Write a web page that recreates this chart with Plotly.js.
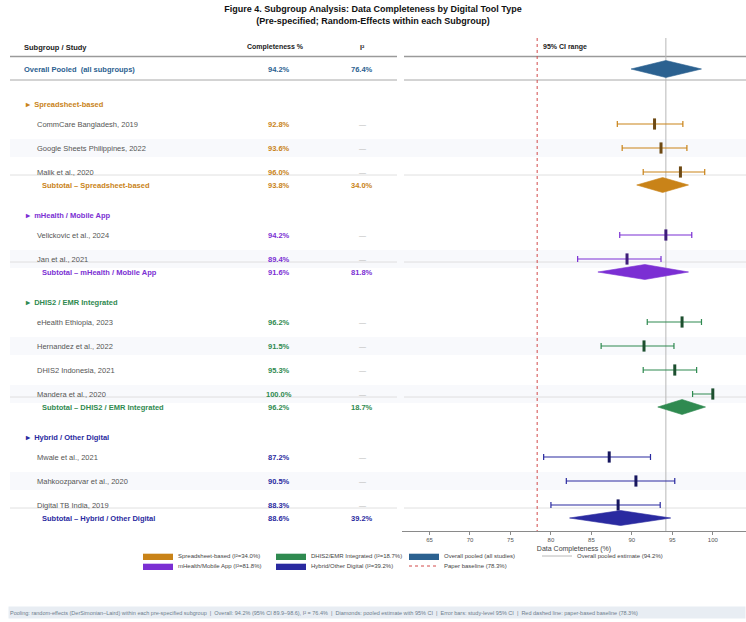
<!DOCTYPE html>
<html>
<head>
<meta charset="utf-8">
<script src="https://cdn.plot.ly/plotly-3.0.1.min.js"></script>
<style>
  html, body { margin: 0; padding: 0; background: #fff; }
  #chart { width: 746px; height: 622px; }
</style>
</head>
<body>
<div id="chart"></div>
<script>
// ---------- data ----------
const groupNames = ['Spreadsheet-based', 'mHealth / Mobile App', 'DHIS2 / EMR Integrated', 'Hybrid / Other Digital'];
const groupLegend = ['Spreadsheet-based (I²=34.0%)', 'mHealth/Mobile App (I²=81.8%)', 'DHIS2/EMR Integrated (I²=18.7%)', 'Hybrid/Other Digital (I²=39.2%)'];

const spreadsheetStudies = ['CommCare Bangladesh, 2019', 'Google Sheets Philippines, 2022', 'Malik et al., 2020'];
const spreadsheetEst = [92.8, 93.6, 96.0];
const spreadsheetLo  = [88.2, 88.8, 91.4];
const spreadsheetHi  = [96.3, 96.8, 99.0];

const mhealthStudies = ['Velickovic et al., 2024', 'Jan et al., 2021'];
const mhealthEst = [94.2, 89.4];
const mhealthLo  = [88.5, 83.3];
const mhealthHi  = [97.4, 93.6];

const dhisStudies = ['eHealth Ethiopia, 2023', 'Hernandez et al., 2022', 'DHIS2 Indonesia, 2021', 'Mandera et al., 2020'];
const dhisEst = [96.2, 91.5, 95.3, 100.0];
const dhisLo  = [91.9, 86.2, 91.4, 97.5];
const dhisHi  = [98.6, 95.2, 98.0, 100.0];

const hybridStudies = ['Mwale et al., 2021', 'Mahkoozparvar et al., 2020', 'Digital TB India, 2019'];
const hybridEst = [87.2, 90.5, 88.3];
const hybridLo  = [79.1, 81.9, 80.0];
const hybridHi  = [92.3, 95.3, 93.5];

// pooled (random-effects) estimate for each subgroup
const subtotalEst = [93.8, 91.6, 96.2, 88.6];
const subtotalLo  = [90.6, 85.8, 93.2, 82.3];
const subtotalHi  = [97.0, 97.0, 99.1, 94.8];
const subtotalI2  = [34.0, 81.8, 18.7, 39.2];

const overallEst = 94.2, overallLo = 89.9, overallHi = 98.6, overallI2 = 76.4;
const paperBaseline = 78.3;
const xTicks = [65, 70, 75, 80, 85, 90, 95, 100];

// ---------- styling ----------
const groupColors = ['#c98318', '#7b2fd3', '#2f8a50', '#2a2aa0'];
const groupDark   = ['#6e4a14', '#3e1c7a', '#1d4f2f', '#15155e'];
const overallColor = '#2b6190';
const FONT = 'Liberation Sans, Arial, sans-serif';
const FIG_W = 746;
const PLOT_TOP = 38, PLOT_BOTTOM = 531;
const HEADER_Y = 47, OVERALL_Y = 69, FIRST_GROUP_Y = 104;
const TO_FIRST_STUDY = 20, STUDY_STEP = 24, TO_SUBTOTAL = 13, TO_NEXT_GROUP = 30;
const COL_NAME = 35, COL_GROUP = 23, COL_SUB = 40, COL_PCT = 279, COL_I2 = 362;
const LEFT_RULE = [10, 397], RIGHT_RULE = [404, 746];
const BODY = 7.5;

const groups = [
  {studies: spreadsheetStudies, est: spreadsheetEst, lo: spreadsheetLo, hi: spreadsheetHi},
  {studies: mhealthStudies, est: mhealthEst, lo: mhealthLo, hi: mhealthHi},
  {studies: dhisStudies, est: dhisEst, lo: dhisLo, hi: dhisHi},
  {studies: hybridStudies, est: hybridEst, lo: hybridLo, hi: hybridHi}
];

const px = v => v / FIG_W;
const yPaper = p => (PLOT_BOTTOM - p) / (PLOT_BOTTOM - PLOT_TOP);
const pct = v => v.toFixed(1) + '%';

// ---------- row layout ----------
let y = FIRST_GROUP_Y;
groups.forEach(g => {
  g.headerY = y;
  y += TO_FIRST_STUDY;
  g.rowY = g.studies.map((_, i) => y + i * STUDY_STEP);
  y = g.rowY[g.rowY.length - 1] + TO_SUBTOTAL;
  g.subY = y;
  y += TO_NEXT_GROUP;
});

const annotations = [];
const shapes = [];
function text(t, xpx, yy, opt) {
  annotations.push(Object.assign({
    text: t, xref: 'paper', yref: 'y', x: px(xpx), y: yy,
    xanchor: 'left', yanchor: 'middle', showarrow: false,
    font: {size: BODY, color: '#555', family: FONT}
  }, opt || {}));
}
function rule(yy, color, width) {
  [LEFT_RULE, RIGHT_RULE].forEach(r => shapes.push({
    type: 'line', xref: 'paper', yref: 'y', x0: px(r[0]), x1: px(r[1]), y0: yy, y1: yy,
    line: {color: color, width: width}, layer: 'below'
  }));
}

// header
text('<b>Subgroup / Study</b>', 22, HEADER_Y, {font: {size: 7.5, color: '#222', family: FONT}});
text('<b>Completeness %</b>', 275, HEADER_Y, {xanchor: 'center', font: {size: 7, color: '#222', family: FONT}});
text('<b>I²</b>', COL_I2, HEADER_Y, {xanchor: 'center', font: {size: 7, color: '#222', family: FONT}});
text('<b>95% CI range</b>', 565, HEADER_Y, {xanchor: 'center', font: {size: 7, color: '#222', family: FONT}});
rule(56.5, '#9a9a9a', 1.3);
rule(80, '#a8a8a8', 1);

// overall row
text('<b>Overall Pooled  (all subgroups)</b>', 22, OVERALL_Y, {font: {size: BODY, color: overallColor, family: FONT}});
text('<b>' + pct(overallEst) + '</b>', COL_PCT, OVERALL_Y, {xanchor: 'center', font: {size: BODY, color: overallColor, family: FONT}});
text('<b>' + pct(overallI2) + '</b>', COL_I2, OVERALL_Y, {xanchor: 'center', font: {size: BODY, color: overallColor, family: FONT}});

const traces = [];

// vertical reference lines
traces.push({
  type: 'scatter', mode: 'lines', x: [overallEst, overallEst], y: [PLOT_TOP, PLOT_BOTTOM],
  line: {color: '#b8b8b8', width: 1}, name: 'Overall pooled estimate (' + pct(overallEst) + ')',
  legend: 'legend', legendrank: 4, hoverinfo: 'skip'
});
traces.push({
  type: 'scatter', mode: 'lines', x: [paperBaseline, paperBaseline], y: [PLOT_TOP, PLOT_BOTTOM],
  line: {color: '#d24b4b', width: 1, dash: 'dot'}, name: 'Paper baseline (' + pct(paperBaseline) + ')',
  legend: 'legend2', legendrank: 3, hoverinfo: 'skip'
});

function diamond(est, lo, hi, yc, half, color, name, legend, rank) {
  return {
    type: 'scatter', mode: 'lines', fill: 'toself',
    x: [lo, est, hi, est, lo], y: [yc, yc - half, yc, yc + half, yc],
    fillcolor: color, line: {color: color, width: 0.6},
    name: name, legend: legend, legendrank: rank, hoveron: 'fills'
  };
}

traces.push(diamond(overallEst, overallLo, overallHi, OVERALL_Y, 8.5, overallColor,
  'Overall pooled (all studies)', 'legend', 3));

const legendSlot = [['legend', 1], ['legend2', 1], ['legend', 2], ['legend2', 2]];

groups.forEach((g, gi) => {
  const c = groupColors[gi];
  text('<b>▸  ' + groupNames[gi] + '</b>', COL_GROUP, g.headerY, {font: {size: BODY, color: c, family: FONT}});
  g.studies.forEach((s, i) => {
    const ry = g.rowY[i];
    if (i % 2 === 1) {
      shapes.push({type: 'rect', xref: 'paper', yref: 'y', x0: px(10), x1: 1, y0: ry - 9, y1: ry + 9,
        fillcolor: '#f8f9fc', line: {width: 0}, layer: 'below'});
    }
    text(s, COL_NAME, ry);
    text('<b>' + pct(g.est[i]) + '</b>', COL_PCT, ry, {xanchor: 'center', font: {size: BODY, color: c, family: FONT}});
    text('—', COL_I2, ry, {xanchor: 'center', font: {size: 7, color: '#b8b8b8', family: FONT}});
  });
  rule(g.rowY[g.rowY.length - 1] + 3, '#d8d8d8', 0.8);
  text('<b>Subtotal – ' + groupNames[gi] + '</b>', COL_SUB, g.subY, {font: {size: BODY, color: c, family: FONT}});
  text('<b>' + pct(subtotalEst[gi]) + '</b>', COL_PCT, g.subY, {xanchor: 'center', font: {size: BODY, color: c, family: FONT}});
  text('<b>' + pct(subtotalI2[gi]) + '</b>', COL_I2, g.subY, {xanchor: 'center', font: {size: BODY, color: c, family: FONT}});

  // study estimates with 95% CI
  traces.push({
    type: 'scatter', mode: 'markers', x: g.est, y: g.rowY, showlegend: false,
    marker: {symbol: 'line-ns', size: 8, line: {width: 3, color: groupDark[gi]}, color: groupDark[gi]},
    error_x: {
      type: 'data', symmetric: false,
      array: g.est.map((v, i) => g.hi[i] - v),
      arrayminus: g.est.map((v, i) => v - g.lo[i]),
      color: c, thickness: 1.2, width: 3
    },
    text: g.studies, hovertemplate: '%{text}: %{x:.1f}%<extra></extra>'
  });
  traces.push(diamond(subtotalEst[gi], subtotalLo[gi], subtotalHi[gi], g.subY, 7.5, c,
    groupLegend[gi], legendSlot[gi][0], legendSlot[gi][1]));
});

// footnote strip
annotations.push({
  text: 'Pooling: random-effects (DerSimonian–Laird) within each pre-specified subgroup  |  Overall: ' + pct(overallEst) +
    ' (95% CI ' + overallLo.toFixed(1) + '–' + overallHi.toFixed(1) + '), I² = ' + pct(overallI2) +
    '  |  Diamonds: pooled estimate with 95% CI  |  Error bars: study-level 95% CI  |  Red dashed line: paper-based baseline (' + pct(paperBaseline) + ')',
  xref: 'paper', yref: 'paper', x: px(8), y: yPaper(612), xanchor: 'left', yanchor: 'middle',
  showarrow: false, align: 'left', width: 734, height: 9, bgcolor: '#e8edf3',
  font: {size: 5.5, color: '#6d7d8d', family: FONT}
});

const legendBase = {
  orientation: 'h', xanchor: 'left', yanchor: 'middle', x: px(138),
  font: {size: 6, color: '#444', family: FONT}, bgcolor: 'rgba(0,0,0,0)',
  entrywidth: 88, entrywidthmode: 'pixels', itemwidth: 30, traceorder: 'normal'
};

const layout = {
  width: 746, height: 622,
  margin: {l: 0, r: 0, t: PLOT_TOP, b: 622 - PLOT_BOTTOM, pad: 0},
  paper_bgcolor: '#fff', plot_bgcolor: '#fff',
  font: {family: FONT, color: '#333'},
  title: {
    text: '<b>Figure 4. Subgroup Analysis: Data Completeness by Digital Tool Type<br>(Pre-specified; Random-Effects within each Subgroup)</b>',
    x: 0.5, xanchor: 'center', xref: 'paper', y: 1 - 12 / 622, yanchor: 'top', yref: 'container',
    font: {size: 9, color: '#111', family: FONT}
  },
  xaxis: {
    domain: [px(402), 1], range: [61.6, 104.1], tickvals: xTicks,
    showgrid: false, zeroline: false, showline: true, linecolor: '#8a8a8a', linewidth: 1,
    ticks: 'outside', ticklen: 3, tickcolor: '#8a8a8a', tickfont: {size: 6, color: '#555', family: FONT},
    title: {text: 'Data Completeness (%)', font: {size: 7, color: '#444', family: FONT}, standoff: 3},
    fixedrange: true
  },
  yaxis: {range: [PLOT_BOTTOM, PLOT_TOP], visible: false, fixedrange: true},
  showlegend: true,
  legend: Object.assign({}, legendBase, {y: yPaper(556)}),
  legend2: Object.assign({}, legendBase, {y: yPaper(566)}),
  annotations: annotations,
  shapes: shapes
};

Plotly.newPlot('chart', traces, layout, {displayModeBar: false, staticPlot: true});
</script>
</body>
</html>
